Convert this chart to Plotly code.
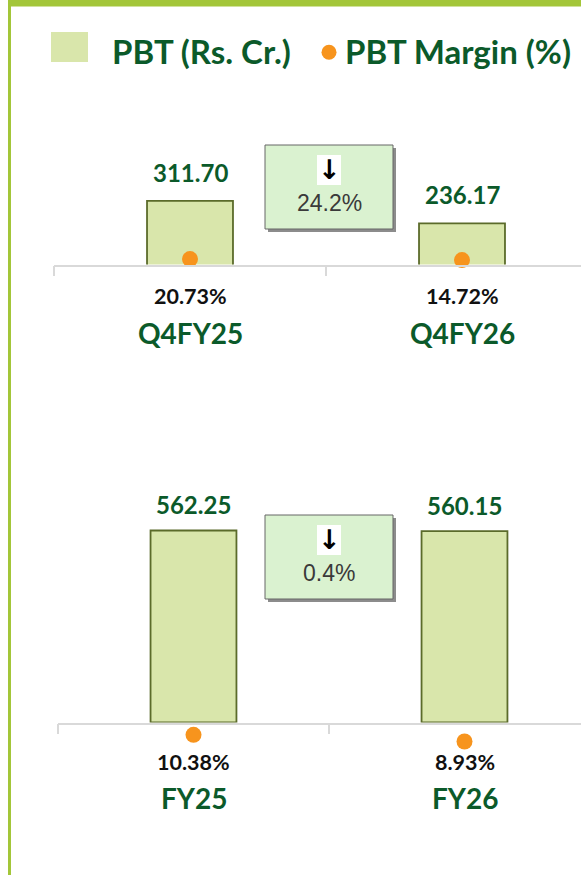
import plotly.graph_objects as go

# ---------------- data ----------------
quarter_cats = ["Q4FY25", "Q4FY26"]
quarter_pbt = [311.70, 236.17]
quarter_margin = [20.73, 14.72]
quarter_change = "24.2%"

year_cats = ["FY25", "FY26"]
year_pbt = [562.25, 560.15]
year_margin = [10.38, 8.93]
year_change = "0.4%"

legend_names = ["PBT (Rs. Cr.)", "PBT Margin (%)"]

# ---------------- style ----------------
W, H = 581, 875
DARK_GREEN = "#0B5A2A"
BAR_FILL = "#D9E6AB"
BAR_LINE = "#5B6B2A"
ORANGE = "#F7941D"
AXIS_GRAY = "#D9D9D9"
FRAME = "#A3C639"
BOX_FILL = "#DAF2D0"
FONT = "Lato"


def px(x):
    return x / W


def py(y):
    return 1 - y / H


fig = go.Figure()

# top chart (quarter)
fig.add_trace(go.Bar(x=quarter_cats, y=quarter_pbt, xaxis="x", yaxis="y",
                     width=0.316, marker=dict(color=BAR_FILL, line=dict(color=BAR_LINE, width=1.8)),
                     name=legend_names[0], showlegend=False, hoverinfo="skip"))
fig.add_trace(go.Scatter(x=quarter_cats, y=quarter_margin, xaxis="x", yaxis="y2", mode="markers",
                         marker=dict(color=ORANGE, size=16), cliponaxis=False,
                         name=legend_names[1], showlegend=False, hoverinfo="skip"))
# bottom chart (year)
fig.add_trace(go.Bar(x=year_cats, y=year_pbt, xaxis="x2", yaxis="y3",
                     width=0.317, marker=dict(color=BAR_FILL, line=dict(color=BAR_LINE, width=1.8)),
                     name=legend_names[0], showlegend=False, hoverinfo="skip"))
fig.add_trace(go.Scatter(x=year_cats, y=year_margin, xaxis="x2", yaxis="y4", mode="markers",
                         marker=dict(color=ORANGE, size=16), cliponaxis=False,
                         name=legend_names[1], showlegend=False, hoverinfo="skip"))

top_base, top_top = 264.5, 100
bot_base, bot_top = 722.5, 480
m_bot = 780  # lower edge of the margin axis in the bottom chart
m_scale = 4.62  # px per % in the bottom chart
m_at_base = 13.04

xaxis_common = dict(type="category", showline=True, linecolor=AXIS_GRAY, linewidth=1.5,
                    ticks="outside", tickson="boundaries", ticklen=10, tickcolor=AXIS_GRAY,
                    tickwidth=1.5, showticklabels=False, showgrid=False, zeroline=False,
                    fixedrange=True)
yaxis_common = dict(visible=False, showgrid=False, zeroline=False, fixedrange=True)

fig.update_layout(
    width=W, height=H, margin=dict(l=0, r=0, t=0, b=0),
    paper_bgcolor="white", plot_bgcolor="rgba(0,0,0,0)",
    showlegend=False,
    xaxis=dict(domain=[px(54), 1], range=[-0.5, -0.5 + (W - 54) / 272], anchor="y", **xaxis_common),
    yaxis=dict(domain=[py(top_base), py(top_top)], range=[98.3, 98.3 + (top_base - top_top) / 0.2985],
               anchor="x", **yaxis_common),
    yaxis2=dict(domain=[py(top_base), py(top_top)], range=[-12, 988], overlaying="y", anchor="x",
                **yaxis_common),
    xaxis2=dict(domain=[px(58), 1], range=[-0.5, -0.5 + (W - 58) / 271], anchor="y3", **xaxis_common),
    yaxis3=dict(domain=[py(bot_base), py(bot_top)], range=[0, (bot_base - bot_top) / 0.3415],
                anchor="x2", **yaxis_common),
    yaxis4=dict(domain=[py(m_bot), py(bot_top)],
                range=[m_at_base - (m_bot - bot_base) / m_scale, m_at_base + (bot_base - bot_top) / m_scale],
                anchor="x2", **yaxis_common),
)

ann = []
# value labels above bars
for cats, vals, xr, yr, sh in [(quarter_cats, quarter_pbt, "x", "y", 28.5),
                               (year_cats, year_pbt, "x2", "y3", 25.5)]:
    for c, v in zip(cats, vals):
        ann.append(dict(x=c, y=v, xref=xr, yref=yr, yshift=sh, text=f"<b>{v:.2f}</b>",
                        showarrow=False, yanchor="middle",
                        font=dict(family=FONT, size=24, color=DARK_GREEN)))
# margin labels and category labels
for cats, margins, xr, yr, pshift, cshift in [(quarter_cats, quarter_margin, "x", "y", -31, -68),
                                              (year_cats, year_margin, "x2", "y3", -39, -75)]:
    for c, m in zip(cats, margins):
        ann.append(dict(x=c, y=0, xref=xr, yref=yr + " domain", yshift=pshift,
                        text=f"<b>{m:.2f}%</b>", showarrow=False, yanchor="middle",
                        font=dict(family=FONT, size=21.5, color="#111111")))
        ann.append(dict(x=c, y=0, xref=xr, yref=yr + " domain", yshift=cshift,
                        text=f"<b>{c}</b>", showarrow=False, yanchor="middle",
                        font=dict(family=FONT, size=28, color=DARK_GREEN)))

shapes = []
# change boxes
for (x0, y0, x1, y1), label in [((265, 145, 393, 229), quarter_change),
                                ((265, 515, 393, 599), year_change)]:
    shapes.append(dict(type="rect", xref="paper", yref="paper",
                       x0=px(x0 + 3), x1=px(x1 + 3), y0=py(y1 + 3), y1=py(y0 + 3),
                       fillcolor="#8C8C8C", line=dict(width=0), layer="above"))
    shapes.append(dict(type="rect", xref="paper", yref="paper",
                       x0=px(x0), x1=px(x1), y0=py(y1), y1=py(y0),
                       fillcolor=BOX_FILL, line=dict(color="#666666", width=1), layer="above"))
    cx = (x0 + x1) / 2
    shapes.append(dict(type="rect", xref="paper", yref="paper",
                       x0=px(cx - 12), x1=px(cx + 12), y0=py(y0 + 40), y1=py(y0 + 10),
                       fillcolor="white", line=dict(width=0), layer="above"))
    ann.append(dict(x=px(cx), y=py(y0 + 24), xref="paper", yref="paper", text="<b>↓</b>",
                    showarrow=False, yanchor="middle",
                    font=dict(family="DejaVu Sans", size=27, color="black")))
    ann.append(dict(x=px(cx), y=py(y0 + 58), xref="paper", yref="paper", text=label,
                    showarrow=False, yanchor="middle",
                    font=dict(family="Liberation Sans", size=23, color="#3A3A3A")))

# frame
shapes.append(dict(type="rect", xref="paper", yref="paper", x0=px(8), x1=px(11), y0=0, y1=py(3),
                   fillcolor=FRAME, line=dict(width=0), layer="above"))
shapes.append(dict(type="rect", xref="paper", yref="paper", x0=px(8), x1=1, y0=py(6.5), y1=1,
                   fillcolor=FRAME, line=dict(width=0), layer="above"))

# legend
shapes.append(dict(type="rect", xref="paper", yref="paper", x0=px(51), x1=px(88), y0=py(62), y1=py(32),
                   fillcolor=BAR_FILL, line=dict(width=0)))
shapes.append(dict(type="circle", xref="paper", yref="paper", x0=px(321.5), x1=px(336.5),
                   y0=py(59.8), y1=py(44.8), fillcolor=ORANGE, line=dict(width=0)))
ann.append(dict(x=px(110), y=py(51), xref="paper", yref="paper", text=f"<b>{legend_names[0]}</b>",
                showarrow=False, xanchor="left", yanchor="middle",
                font=dict(family=FONT, size=33, color=DARK_GREEN)))
ann.append(dict(x=px(343), y=py(51), xref="paper", yref="paper", text=f"<b>{legend_names[1]}</b>",
                showarrow=False, xanchor="left", yanchor="middle",
                font=dict(family=FONT, size=33, color=DARK_GREEN)))

fig.update_layout(annotations=ann, shapes=shapes)
fig.write_html("out.html", config={"displayModeBar": False},
               post_script="document.body.style.margin='0';")
